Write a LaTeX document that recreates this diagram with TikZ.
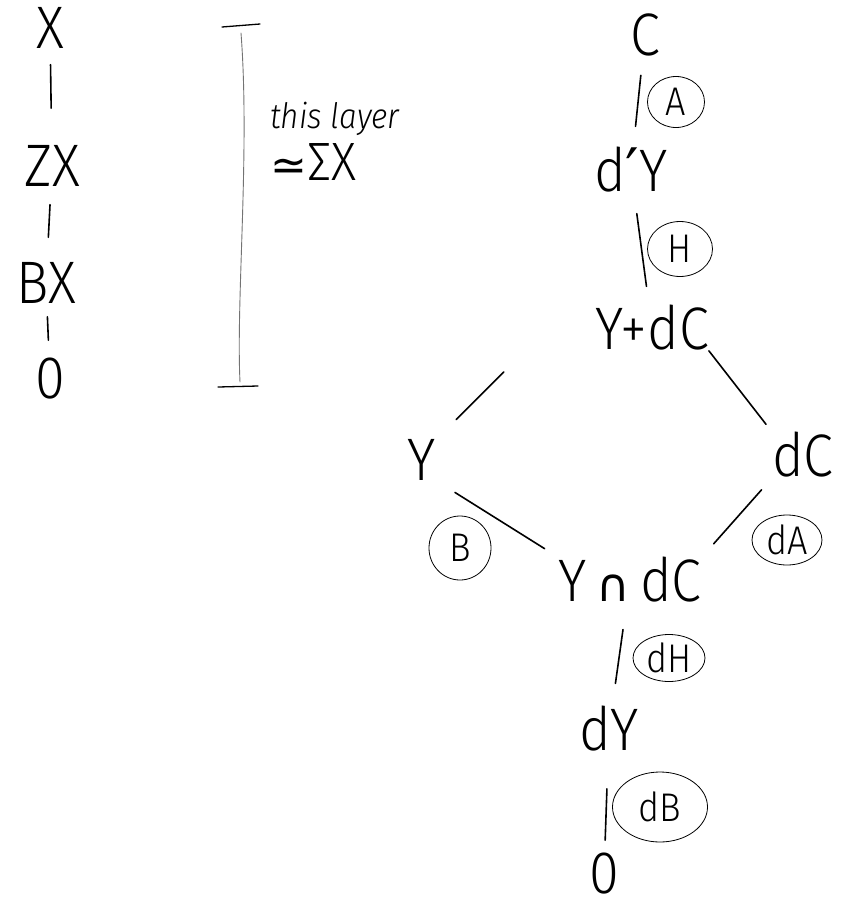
\documentclass[tikz,border=0pt]{standalone}
\usepackage{fontspec}
\setmainfont{Fira Sans}[UprightFont={* Light}, ItalicFont={* Light Italic}, FakeStretch=0.9]
\newfontfamily\symfont{DejaVu Sans}
\usetikzlibrary{shapes.geometric}
\begin{document}
\begin{tikzpicture}[x=1pt, y=-1pt, line cap=round,
    lbl/.style={inner sep=0pt, font=\fontsize{60}{60}\selectfont},
    tag/.style={draw, ellipse, line width=0.8pt, inner sep=0pt, font=\fontsize{40}{40}\selectfont},
    link/.style={line width=1.6pt, shorten <=20pt, shorten >=20pt}]
    \useasboundingbox (0,0) rectangle (851,911);

    % Cột bên trái
    \node[lbl] (X) at (50,28) {X};
    \node[lbl] (ZX) at (52,166) {ZX};
    \node[lbl] (BX) at (46,283) {BX};
    \node[lbl] (O1) at (50,379) {0};
    \draw[link, shorten <=16pt, shorten >=37pt] (X) -- (ZX);
    \draw[link, shorten <=18pt, shorten >=25pt] (ZX) -- (BX);
    \draw[link, shorten <=13pt, shorten >=18pt] (BX) -- (O1);

    % Ngoặc và chú thích
    \draw[line width=1.3pt] (222,27) -- (260,24);
    \draw[line width=0.9pt, black!55] (241,33) .. controls (250,150) and (236,300) .. (240,382);
    \draw[line width=1.3pt] (218,387) -- (258,386);
    \node[font=\itshape\fontsize{35}{35}\selectfont, anchor=base west, inner sep=0pt] (note) at (270,128) {this layer};
    \node[font=\fontsize{54}{54}\selectfont, anchor=base west, inner sep=0pt] (approx) at (270,180) {{\symfont\fontsize{44}{44}\selectfont ≃}ΣX};

    % Cột bên phải
    \node[lbl] (C) at (645,35) {C};
    \node[lbl] (dpY) at (631,170) {d{\symfont ′}Y};
    \node[lbl] (YpdC) at (652,328) {Y+dC};
    \node[lbl] (Y) at (422,460) {Y};
    \node[lbl] (dC) at (803,455) {dC};
    \node[lbl] (YndC) at (630,580) {Y\,{\symfont\fontsize{46}{46}\selectfont ∩}\,dC};
    \node[lbl] (dY) at (609,729) {dY};
    \node[lbl] (O2) at (604,874) {0};

    \draw[link, shorten <=19pt, shorten >=21pt] (C) -- (dpY);
    \draw[link, shorten <=21pt, shorten >=19pt] (dpY) -- (YpdC);
    \draw[link, shorten <=30pt, shorten >=28pt] ([xshift=-70pt]YpdC.south west) -- (Y.north east);
    \draw[link, shorten <=0pt, shorten >=10pt] (YpdC.south east) -- (dC.north west);
    \draw[link, shorten <=22pt, shorten >=16pt] (Y.south east) -- (YndC.north west);
    \draw[link, shorten <=16pt, shorten >=18pt] (dC.south west) -- (YndC.north east);
    \draw[link, shorten <=27pt, shorten >=23pt] (YndC) -- (dY);
    \draw[link, shorten <=37pt, shorten >=13pt] (dY) -- (O2);

    % Nhãn khoanh tròn
    \node[tag, minimum width=57pt, minimum height=51pt] (tA) at (676,102) {A};
    \node[tag, minimum width=65pt, minimum height=55pt] (tH) at (680,249) {H};
    \node[tag, minimum width=62pt, minimum height=64pt] (tB) at (460,548) {B};
    \node[tag, minimum width=70pt, minimum height=50pt] (tdA) at (787,540) {dA};
    \node[tag, minimum width=72pt, minimum height=47pt] (tdH) at (669,658) {dH};
    \node[tag, minimum width=95pt, minimum height=70pt] (tdB) at (660,807) {dB};
\end{tikzpicture}
\end{document}
